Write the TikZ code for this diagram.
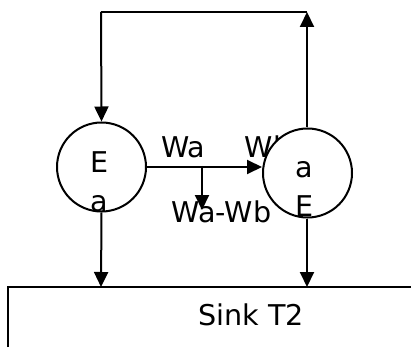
\documentclass[tikz,border=0pt]{standalone}
\usepackage{fontspec}
\setmainfont{DejaVu Sans}
\usetikzlibrary{arrows.meta}
\begin{document}
\begin{tikzpicture}[x=0.5pt,y=-0.5pt,
  line width=1pt,
  arr/.style={-{Triangle[length=7.5pt,width=7pt]}},
  ball/.style={circle,draw,fill=white,minimum size=44.5pt,inner sep=0pt},
  lbl/.style={anchor=base,inner sep=0pt,font=\fontsize{14.3}{16}\selectfont}]
\useasboundingbox (0,0) rectangle (411,347);
% label partly hidden by right circle
\node[lbl] (wb) at (268,157) {Wb};
\node[ball] (L) at (101.5,167) {};
\node[ball] (R) at (307.5,173) {};
\coordinate (tl) at (101,12);
\coordinate (tr) at (307,12);
\coordinate (sl) at (101,287);
\coordinate (sr) at (307,287);
\coordinate (mid) at (202,166);
\coordinate (midend) at (202,210);
% sink
\draw (8,347) -- (8,287) -- (411,287);
\node[lbl] (sink) at (251,325) {Sink T2};
% loop
\draw (tl) -- (tr);
\draw[arr] (tl) -- (L.north);
\draw[arr] (R.north -| tr) -- (tr);
% work
\draw[arr] (L.east) -- (R.west |- L.east);
\draw[arr] (mid) -- (midend);
% to sink
\draw[arr] (L.south) -- (sl);
\draw[arr] (R.south -| sr) -- (sr);
% texts
\node[lbl] (la1) at (100,172) {E};
\node[lbl] (la2) at (99,211) {a};
\node[lbl] (ra1) at (304,177) {a};
\node[lbl] (ra2) at (305,216) {E};
\node[lbl] (wa) at (183,157) {Wa};
\node[lbl] (wawb) at (221.5,222) {Wa-Wb};
\end{tikzpicture}
\end{document}
